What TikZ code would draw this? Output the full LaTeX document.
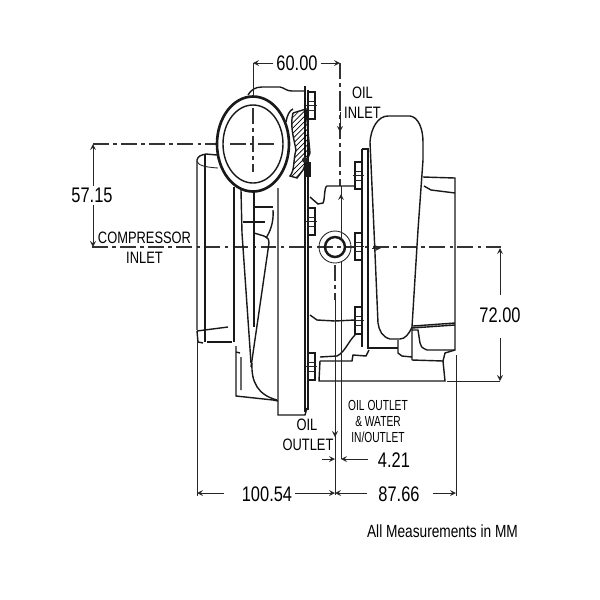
\documentclass[tikz,border=0pt]{standalone}
\usepackage{fontspec}
\setmainfont[FakeStretch=0.78]{Liberation Sans}
\newfontfamily\narrowfont[FakeStretch=0.7]{Liberation Sans}
\usepackage{tikz}
\usetikzlibrary{patterns}
\tikzset{
	part line/.style={line width=.8pt,black!90},
	thick line/.style={line width=1.2pt,black!90},
	thin line/.style={line width=.5pt,black!85},
	center line/.style={line width=.6pt,black!80,dash pattern=on 9pt off 2.5pt on 2pt off 2.5pt},
	dim line/.style={line width=.5pt,black!85,>=stealth},
	dim label/.style={font=\fontsize{12}{12}\selectfont,inner sep=1.5pt},
	big label/.style={font=\fontsize{9.4}{10}\selectfont,inner sep=0pt},
	small label/.style={font=\narrowfont\fontsize{8.3}{9}\selectfont,inner sep=0pt},
}

\begin{document}
\begin{tikzpicture}[x=.02cm,y=-.02cm]
	\useasboundingbox (0,0) rectangle (600,600);

	% center lines
	\draw[center line] (93,144) -- (278,144);
	\draw[center line] (92,247) -- (503,247);
	\draw[center line] (340,95) -- (340,186);
	\draw[center line] (253,96) -- (253,172);
	\draw[center line] (335,265) -- (335,300);

	% compressor inlet
	\draw[part line] (197,330) -- (197,160) .. controls (198,156) and (201,155) .. (206,154) -- (217,155);
	\draw[part line] (205,154) -- (205,342);
	\draw[thin line] (197,161) .. controls (198,165) and (203,167) .. (218,168);
	\draw[part line] (197,331) -- (228,327);
	\draw[part line] (197,331) -- (198,342) -- (203,343);
	\draw[part line] (207,342) -- (232,342);
	\draw[thick line] (234,187) -- (234,342);
	\draw[part line] (236,346) -- (236,396) -- (273,400) -- (278,401);
	\draw[part line] (236,352) -- (240,353) (241,357) -- (241,390);
	\draw[part line] (252,363) .. controls (251,382) and (258,395) .. (277,400);

	% compressor wheel
	\draw[part line] (241,190) -- (242,233) -- (251,363);
	\draw[part line] (269,243) -- (251,367);
	\draw[part line] (254,190) -- (254,327);
	\draw[part line] (254,233) -- (264,236) .. controls (268,238) and (270,240) .. (269,243);
	\draw[part line] (254,207) -- (273,207);
	\draw[part line] (243,222) -- (265,222);
	\draw[part line] (273,210) .. controls (274,222) and (270,232) .. (266,238);
	\draw[part line] (278,188) -- (278,415) -- (305,415) -- (307,408);

	% flange plates
	\draw[thick line] (305,86) -- (305,412);
	\draw[part line] (308,90) -- (308,410);
	\draw[part line] (248,95) .. controls (251,90) and (255,87) .. (262,87) -- (280,87) .. controls (285,88) and (286,91) .. (292,91) -- (305,91);

	% hatched seal
	\draw[part line,pattern=north east lines] (293,113) -- (306,109) -- (310,153) -- (303,170) -- (297,178) -- (290,176) .. controls (295,170) and (293,160) .. (296,150) .. controls (293,135) and (290,125) .. (293,113);
	\draw[part line] (286,122) .. controls (287,115) and (290,110) .. (293,109);
	\fill[black!85] (305,160) circle (3);
	\draw[part line] (306,163) rectangle (310,176);

	% volute
	\draw[line width=1.5pt,black!90,fill=white] (253,144) ellipse (36 and 47.5);
	\draw[part line] (253,144) ellipse (30 and 39);
	\draw[center line] (253,108) -- (253,172);
	\draw[center line] (230,144) -- (276,144);

	% bolts
	\foreach \bx/\by in {308/92,308/208,308/353,355/162,355/233,355/307} {
		\draw[part line,fill=white] (\bx,\by) rectangle ++(7,27);
		\draw[thin line] (\bx,\by+9) -- ++(7,0) (\bx,\by+18) -- ++(7,0);
		\draw[thin line] (\bx-2,\by+13) -- ++(11,0);
	}

	% bearing housing
	\draw[part line] (310,197) -- (318,204) -- (323,203) .. controls (325,200) and (324,187) .. (327,186) -- (355,186);
	\draw[part line] (310,315) -- (317,320) -- (335,321) -- (355,320);
	\draw[part line] (320,357) -- (337,356) .. controls (345,352) and (348,342) .. (355,335);
	\draw[part line] (320,361) -- (352,361) -- (353,355) -- (366,356) -- (369,350);
	\draw[part line] (320,361) -- (319,381) -- (445,381) -- (443,361) -- (412,360);

	% oil port
	\draw[thin line] (335,247) circle (16);
	\draw[line width=1.4pt,black!90] (335,247) circle (10);

	% turbine side
	\draw[thick line] (362,149) -- (362,347);
	\draw[part line] (362,149) -- (368,149) -- (368,348) -- (398,348);
	\draw[part line] (370,142) .. controls (371,128) and (378,116) .. (388,116) -- (410,116) .. controls (418,117) and (423,128) .. (423,142) -- (423,160) -- (418,230) -- (412,327) .. controls (409,334) and (405,339) .. (400,339) -- (390,339) .. controls (382,337) and (379,330) .. (378,323) -- (374,230) -- (370,142);
	\draw[part line] (423,177) -- (455,178) -- (455,350) -- (427,350) .. controls (422,348) and (420,346) .. (420,343) -- (418,330) -- (412,330);
	\draw[part line] (424,186) -- (431,190) -- (455,193);
	\draw[part line] (412,328) -- (455,325) (413,326) -- (455,323);
	\draw[part line] (398,340) -- (398,353) -- (402,356) -- (412,357) (412,327) -- (412,360);
	\draw[part line] (443,361) -- (445,353) -- (455,350);

	% dimensions
	\node[dim label] (dimWidth) at (297,63) {60.00};
	\coordinate (widthL) at (253,63);
	\coordinate (widthR) at (340,63);
	\draw[dim line,->] (dimWidth) -- (widthL);
	\draw[dim line,->] (dimWidth) -- (widthR);
	\draw[dim line] (widthL) -- (253,96);
	\draw[center line] (widthR) -- (340,95);
	\coordinate (inletTip) at (340,132);
	\draw[dim line,->] (340,112) -- (inletTip);

	\node[dim label] (dimHeight) at (92,195) {57.15};
	\coordinate (heightT) at (93,144);
	\coordinate (heightB) at (93,247);
	\coordinate (heightTs) at (93,186);
	\coordinate (heightBs) at (93,205);
	\draw[dim line,->] (heightTs) -- (heightT);
	\draw[dim line,->] (heightBs) -- (heightB);

	\node[dim label] (dimTurbine) at (500,315) {72.00};
	\coordinate (turbineT) at (500,248);
	\coordinate (turbineB) at (500,381);
	\coordinate (turbineTs) at (500,295);
	\coordinate (turbineBs) at (500,338);
	\draw[dim line,->] (turbineTs) -- (turbineT);
	\draw[dim line,->] (turbineBs) -- (turbineB);
	\draw[dim line] (447,381) -- (turbineB);

	\node[dim label] (dimPort) at (394,460) {4.21};
	\coordinate (portA) at (335,459);
	\coordinate (portB) at (341,459);
	\draw[dim line,->] (322,459) -- (portA);
	\draw[dim line,->] (368,459) -- (portB);
	\draw[dim line,->] (341,205) -- (341,194);
	\draw[dim line] (341,186) -- (341,241) (341,262) -- (portB);
	\draw[dim line] (335,300) -- (335,495);
	\draw[dim line,->] (335,410) -- (335,437);
	\draw[dim line,->] (372,248) -- (381,248);

	\node[dim label] (dimLeft) at (267,494) {100.54};
	\node[dim label] (dimRight) at (399,494) {87.66};
	\coordinate (leftEnd) at (197,493);
	\coordinate (midEnd) at (335,493);
	\coordinate (rightEnd) at (456,493);
	\coordinate (leftStubA) at (224,493);
	\coordinate (leftStubB) at (295,493);
	\coordinate (rightStubA) at (367,493);
	\coordinate (rightStubB) at (433,493);
	\draw[dim line,->] (leftStubA) -- (leftEnd);
	\draw[dim line,->] (leftStubB) -- (midEnd);
	\draw[dim line,->] (rightStubA) -- (midEnd);
	\draw[dim line,->] (rightStubB) -- (rightEnd);
	\draw[dim line] (197,342) -- (197,496);
	\draw[dim line] (456,355) -- (456,496);

	% labels
	\node[big label] (compA) at (144.5,238) {COMPRESSOR};
	\node[big label] (compB) at (144.5,257.5) {INLET};
	\node[big label] (oilA) at (362.5,92.5) {OIL};
	\node[big label] (oilB) at (362.5,112.5) {INLET};
	\node[big label] (outA) at (307,425) {OIL};
	\node[big label] (outB) at (308,444.5) {OUTLET};
	\node[small label] (waterA) at (378,405.5) {OIL OUTLET};
	\node[small label] (waterB) at (378,421.5) {\&\ WATER};
	\node[small label] (waterC) at (378,437) {IN/OUTLET};
	\node[big label,font=\fontsize{10}{10}\selectfont] (footer) at (442.5,531) {All Measurements in MM};

\end{tikzpicture}
\end{document}
